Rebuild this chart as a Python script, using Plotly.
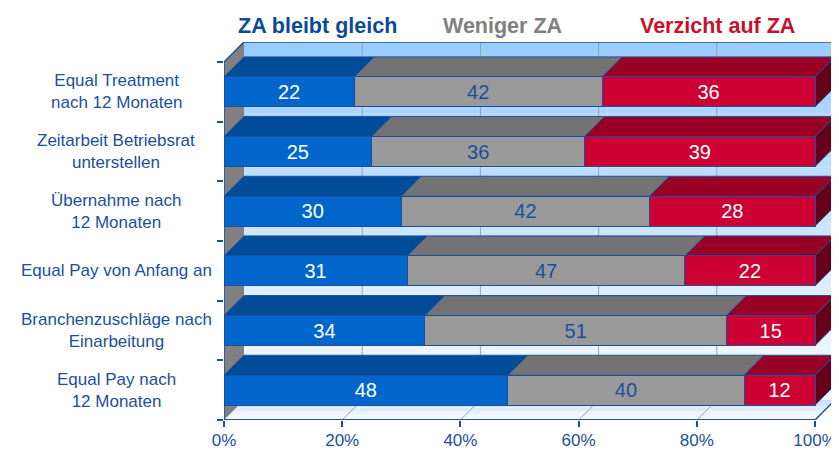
import plotly.graph_objects as go

categories = ["Equal Treatment<br>nach 12 Monaten",
              "Zeitarbeit Betriebsrat<br>unterstellen",
              "Übernahme nach<br>12 Monaten",
              "Equal Pay von Anfang an",
              "Branchenzuschläge nach<br>Einarbeitung",
              "Equal Pay nach<br>12 Monaten"]
za_gleich = [22, 25, 30, 31, 34, 48]
weniger_za = [42, 36, 42, 47, 51, 40]
verzicht_za = [36, 39, 28, 22, 15, 12]
series_names = ["ZA bleibt gleich", "Weniger ZA", "Verzicht auf ZA"]
x_ticks = [0, 20, 40, 60, 80, 100]
x_ticklabels = ["0%", "20%", "40%", "60%", "80%", "100%"]

FONT = "Liberation Sans, Arial, sans-serif"
OUT = "#1B4F9E"
front_cols = ["#0066CC", "#999999", "#CC0033"]
top_cols = ["#004C99", "#737373", "#990026"]
side_col = "#66001A"
text_cols = ["#FFFFFF", "#1B4F9E", "#FFFFFF"]
title_cols = ["#0B4A99", "#808080", "#C8102E"]

n = len(categories)
PAGE = 8  # default body margin of the html page
W, H = 839 - PAGE, 450 - PAGE
ml, mr, mt, mb = 224 - PAGE, 4, 42 - PAGE, 30
depth_px = 20
plot_w = W - ml - mr
plot_h = H - mt - mb
dx = depth_px * 100 / (plot_w - depth_px)
dy = depth_px * n / (plot_h - depth_px)
bw = 0.5

ypos = [n - 1 - i + 0.5 for i in range(n)]
series = [za_gleich, weniger_za, verzicht_za]

fig = go.Figure()
bases = [0] * n
for s, vals in enumerate(series):
    fig.add_trace(go.Bar(
        y=ypos, x=vals, base=list(bases), orientation="h", width=bw,
        name=series_names[s], text=[str(v) for v in vals],
        textposition="inside", insidetextanchor="middle",
        textfont=dict(size=20, color=text_cols[s], family=FONT),
        marker=dict(color=front_cols[s], line=dict(color=OUT, width=1)),
        hoverinfo="skip", cliponaxis=False))
    bases = [b + v for b, v in zip(bases, vals)]

shapes = []

def hexrgb(h):
    h = h.lstrip("#")
    return [int(h[i:i + 2], 16) for i in (0, 2, 4)]

def mix(c1, c2, t):
    a, b = hexrgb(c1), hexrgb(c2)
    return "rgb(%d,%d,%d)" % tuple(round(a[k] + (b[k] - a[k]) * t) for k in range(3))

# back wall gradient
NB = 40
ytop, ybot = n + dy, dy
for j in range(NB):
    y1 = ytop - (ytop - ybot) * j / NB
    y0 = ytop - (ytop - ybot) * (j + 1) / NB
    shapes.append(dict(type="rect", xref="x", yref="y", x0=dx, x1=100 + dx, y0=y0, y1=y1 + 0.002,
                       fillcolor=mix("#99CCFF", "#FAFCFF", (j + 0.5) / NB), line=dict(width=0), layer="below"))
# floor gradient
NF = 8
for j in range(NF):
    t0, t1 = j / NF, (j + 1) / NF
    ya, yb = dy * (1 - t0), dy * (1 - t1)
    xa, xb = dx * (1 - t0), dx * (1 - t1)
    path = f"M {xa},{ya} L {100 + xa},{ya} L {100 + xb},{yb} L {xb},{yb} Z"
    shapes.append(dict(type="path", xref="x", yref="y", path=path,
                       fillcolor=mix("#C4DCFF", "#FFFFFF", (j + 0.5) / NF), line=dict(width=0), layer="below"))
# left wall
shapes.append(dict(type="path", xref="x", yref="y",
                   path=f"M 0,0 L {dx},{dy} L {dx},{n + dy} L 0,{n} Z",
                   fillcolor="#808080", line=dict(width=0), layer="below"))
# gridlines
for v in x_ticks[1:-1]:
    shapes.append(dict(type="line", xref="x", yref="y", x0=v + dx, x1=v + dx, y0=dy, y1=n + dy,
                       line=dict(color="#A0A0A0", width=1), layer="below"))
    shapes.append(dict(type="line", xref="x", yref="y", x0=v, x1=v + dx, y0=0, y1=dy,
                       line=dict(color="#A0A0A0", width=1), layer="below"))
# frame lines
frame = [(0, n, dx, n + dy), (dx, n + dy, 100 + dx, n + dy), (100 + dx, n + dy, 100 + dx, dy),
         (100, 0, 100 + dx, dy), (0, 0, 100, 0), (0, 0, 0, n)]
for x0, y0, x1, y1 in frame:
    shapes.append(dict(type="line", xref="x", yref="y", x0=x0, y0=y0, x1=x1, y1=y1,
                       line=dict(color=OUT, width=2 if y0 == y1 == 0 else 1.5), layer="below"))

# 3D top and side faces
for i in range(n):
    yt = ypos[i] + bw / 2
    yb = ypos[i] - bw / 2
    x0 = 0
    for s, vals in enumerate(series):
        x1 = x0 + vals[i]
        path = f"M {x0},{yt} L {x1},{yt} L {x1 + dx},{yt + dy} L {x0 + dx},{yt + dy} Z"
        shapes.append(dict(type="path", xref="x", yref="y", path=path,
                           fillcolor=top_cols[s], line=dict(color=OUT, width=1), layer="below"))
        x0 = x1
    path = f"M {x0},{yb} L {x0},{yt} L {x0 + dx},{yt + dy} L {x0 + dx},{yb + dy} Z"
    shapes.append(dict(type="path", xref="x", yref="y", path=path,
                       fillcolor=side_col, line=dict(color=OUT, width=1), layer="below"))

annotations = []
label_center_px = 116
for i, c in enumerate(categories):
    annotations.append(dict(text=c, xref="paper", x=0, xshift=label_center_px - 224, xanchor="center",
                            yref="y", y=ypos[i], yanchor="middle", align="center", showarrow=False,
                            font=dict(size=17, color="#1B4F9E", family=FONT)))
title_x = [317, 502, 717.5]
for s in range(3):
    annotations.append(dict(text=f"<b>{series_names[s]}</b>", xref="paper",
                            x=(title_x[s] - 224) / plot_w,
                            yref="paper", y=(420 - 26) / plot_h, yanchor="middle", xanchor="center",
                            showarrow=False, font=dict(size=21.5, color=title_cols[s], family=FONT)))

fig.update_layout(
    width=W, height=H, margin=dict(l=ml, r=mr, t=mt, b=mb, autoexpand=False),
    barmode="stack", showlegend=False,
    plot_bgcolor="white", paper_bgcolor="white",
    shapes=shapes, annotations=annotations,
    xaxis=dict(range=[0, 100 + dx], tickvals=x_ticks, ticktext=x_ticklabels,
               ticks="outside", ticklen=6, tickcolor=OUT, tickwidth=1.5, ticklabelstandoff=-1,
               tickfont=dict(size=17, color="#1B4F9E", family=FONT), automargin=False,
               showgrid=False, zeroline=False, showline=False, fixedrange=True),
    yaxis=dict(range=[0, n + dy], tickvals=list(range(n + 1)), ticks="outside", ticklen=6,
               tickcolor=OUT, tickwidth=1.5, showticklabels=False, automargin=False,
               showgrid=False, zeroline=False, showline=False, fixedrange=True),
)
fig.write_html("out.html")
